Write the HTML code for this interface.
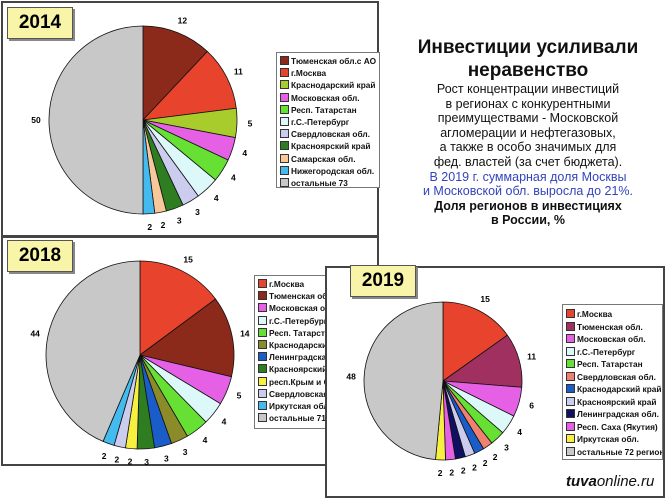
<!DOCTYPE html>
<html><head><meta charset="utf-8"><style>
body{margin:0;width:666px;height:499px;background:#fff;position:relative;overflow:hidden;font-family:"Liberation Sans",sans-serif}
.panel{position:absolute;background:#fff;border:2px solid #444;box-sizing:border-box}
.yr{position:absolute;background:#f8f4a8;border:1px solid #555;box-shadow:2px 2px 0 #888;font-weight:bold;font-size:19px;text-align:center;line-height:30px;width:64px;height:30px}
.leg{position:absolute;background:#fff;border:1px solid #777;font-weight:bold;font-size:8.3px;color:#111;overflow:hidden;white-space:nowrap}
.leg div{position:absolute;left:3px;height:10px;line-height:10px}
.leg i{display:inline-block;width:7px;height:7px;border:1px solid #333;margin-right:2px;vertical-align:-1px}
svg{position:absolute;left:0;top:0}
.txt{position:absolute;left:400px;width:256px;text-align:center;color:#111}
</style></head><body>
<div class="panel" style="left:1px;top:1px;width:378px;height:236px"></div>
<div class="panel" style="left:1px;top:236px;width:378px;height:230px"></div>
<svg id="s1" width="666" height="499"></svg>
<div class="yr" style="left:7px;top:7px">2014</div>
<div class="yr" style="left:7px;top:240px">2018</div>
<div class="leg" id="l1" style="left:276px;top:52px;width:102px;height:134px"></div>
<div class="leg" id="l2" style="left:254px;top:275px;width:100px;height:152px"></div>
<div class="panel" style="left:325px;top:266px;width:340px;height:232px;border-width:2px"></div>
<svg id="s2" width="666" height="499"></svg>
<div class="yr" style="left:350px;top:265px">2019</div>
<div class="leg" id="l3" style="left:562px;top:304px;width:99px;height:154px"></div>
<div style="position:absolute;left:566px;top:473px;font-size:15px;font-style:italic;color:#111"><b>tuva</b>online.ru</div>
<div class="txt" style="top:36px;font-size:19px;font-weight:bold;line-height:23px">Инвестиции усиливали<br>неравенство</div>
<div class="txt" style="top:82px;font-size:12.5px;line-height:14.6px">Рост концентрации инвестиций<br>в регионах с конкурентными<br>преимуществами - Московской<br>агломерации и нефтегазовых,<br>а также в особо значимых для<br>фед. властей (за счет бюджета).<br><span style="color:#3344bb">В 2019 г. суммарная доля Москвы<br>и Московской обл. выросла до 21%.</span><br><b>Доля регионов в инвестициях<br>в России, %</b></div>
<script>
function pie(svg,cx,cy,r,data){
  var s=document.getElementById(svg),tot=0,a=0,h='';
  data.forEach(function(d){tot+=d[0]});
  data.forEach(function(d){
    var a1=a+d[0]/tot*2*Math.PI;
    var x0=cx+r*Math.sin(a),y0=cy-r*Math.cos(a),x1=cx+r*Math.sin(a1),y1=cy-r*Math.cos(a1);
    h+='<path d="M'+cx+','+cy+' L'+x0+','+y0+' A'+r+','+r+' 0 '+((a1-a)>Math.PI?1:0)+' 1 '+x1+','+y1+' Z" fill="'+d[1]+'" stroke="#111" stroke-width="0.8"/>';
    var m=(a+a1)/2,lr=r+13;
    h+='<text x="'+(cx+lr*Math.sin(m))+'" y="'+(cy-lr*Math.cos(m)+3)+'" font-size="8.5" font-weight="bold" text-anchor="middle" font-family="Liberation Sans">'+d[0]+'</text>';
    a=a1;
  });
  s.innerHTML+=h;
}
function leg(id,items,top,step){
  var h='';items.forEach(function(it,i){h+='<div style="top:'+(top+i*step)+'px"><i style="background:'+it[1]+'"></i>'+it[0]+'</div>'});
  document.getElementById(id).innerHTML=h;
}
var C={br:'#8b2a1a',rd:'#e8432c',yg:'#a8cc2c',mg:'#e660e6',gr:'#66e033',cy:'#ddf8f8',lv:'#ccccee',dg:'#2e7d20',pe:'#f8c89a',sk:'#44bbee',gy:'#c8c8c8',ol:'#8b8b2a',bl:'#1a5cc8',ye:'#f8f040',pu:'#a03060',sa:'#f08070',nv:'#101060'};
pie('s1',143,120,94,[[12,C.br],[11,C.rd],[5,C.yg],[4,C.mg],[4,C.gr],[4,C.cy],[3,C.lv],[3,C.dg],[2,C.pe],[2,C.sk],[50,C.gy]]);
pie('s1',140,355,94,[[15,C.rd],[14,C.br],[5,C.mg],[4,C.cy],[4,C.gr],[3,C.ol],[3,C.bl],[3,C.dg],[2,C.ye],[2,C.lv],[2,C.sk],[44,C.gy]]);
pie('s2',443,381,79,[[15,C.rd],[11,C.pu],[6,C.mg],[4,C.cy],[3,C.gr],[2,C.sa],[2,C.bl],[2,C.lv],[2,C.nv],[2,C.mg],[2,C.ye],[48,C.gy]]);
leg('l1',[['Тюменская обл.с АО',C.br],['г.Москва',C.rd],['Краснодарский край',C.yg],['Московская обл.',C.mg],['Респ. Татарстан',C.gr],['г.С.-Петербург',C.cy],['Свердловская обл.',C.lv],['Красноярский край',C.dg],['Самарская обл.',C.pe],['Нижегородская обл.',C.sk],['остальные 73',C.gy]],3,12.2);
leg('l2',[['г.Москва',C.rd],['Тюменская обл.',C.br],['Московская обл.',C.mg],['г.С.-Петербург',C.cy],['Респ. Татарстан',C.gr],['Краснодарский край',C.ol],['Ленинградская обл.',C.bl],['Красноярский край',C.dg],['респ.Крым и Севастополь',C.ye],['Свердловская обл.',C.lv],['Иркутская обл.',C.sk],['остальные 71 регион',C.gy]],3,12.2);
leg('l3',[['г.Москва',C.rd],['Тюменская обл.',C.pu],['Московская обл.',C.mg],['г.С.-Петербург',C.cy],['Респ. Татарстан',C.gr],['Свердловская обл.',C.sa],['Краснодарский край',C.bl],['Красноярский край',C.lv],['Ленинградская обл.',C.nv],['Респ. Саха (Якутия)',C.mg],['Иркутская обл.',C.ye],['остальные 72 регион',C.gy]],4,12.5);
</script>
</body></html>
